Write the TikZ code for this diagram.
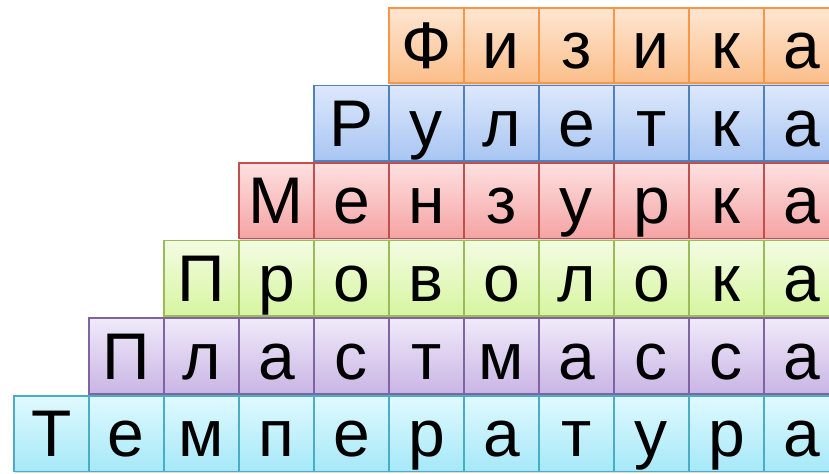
\documentclass[tikz,border=0pt]{standalone}
\usepackage{fontspec}
\setmainfont{Liberation Sans}
\usetikzlibrary{shadows}
\definecolor{orB}{HTML}{F79646}\definecolor{orT}{HTML}{FEE6D2}\definecolor{orD}{HTML}{FBBE8A}
\definecolor{blB}{HTML}{4F81BD}\definecolor{blT}{HTML}{DDE8FC}\definecolor{blD}{HTML}{A8C5F2}
\definecolor{rdB}{HTML}{C0504D}\definecolor{rdT}{HTML}{FEE0E0}\definecolor{rdD}{HTML}{F5A3A3}
\definecolor{gnB}{HTML}{9BBB59}\definecolor{gnT}{HTML}{F4FCE2}\definecolor{gnD}{HTML}{D6F5A0}
\definecolor{puB}{HTML}{8064A2}\definecolor{puT}{HTML}{F0EAF9}\definecolor{puD}{HTML}{C9B5E5}
\definecolor{aqB}{HTML}{4BACC6}\definecolor{aqT}{HTML}{E0FAFE}\definecolor{aqD}{HTML}{A6E8F8}
\tikzset{
  cell/.style={draw=#1B, line width=1.7bp, top color=#1T, bottom color=#1D,
    minimum width=75bp, minimum height=75.5bp, inner sep=0pt, anchor=north west,
    text height=46bp, text depth=0pt,
    font=\fontsize{66bp}{70bp}\selectfont,
    drop shadow={opacity=0.3, shadow xshift=1bp, shadow yshift=-1.5bp}}
}
\begin{document}
\begin{tikzpicture}[x=1bp,y=-1bp]
\useasboundingbox (0,0) rectangle (829,474);
\clip (0,0) rectangle (829,474);
\foreach \r/\c/\w in {0/or/{Ф,и,з,и,к,а},1/bl/{Р,у,л,е,т,к,а},2/rd/{М,е,н,з,у,р,к,а},3/gn/{П,р,о,в,о,л,о,к,а},4/pu/{П,л,а,с,т,м,а,с,с,а},5/aq/{Т,е,м,п,е,р,а,т,у,р,а}}{
  \foreach \l [count=\k from 0] in \w {
    \node[cell=\c] (c\r-\k) at ({388-75*\r+75*\k},{7+77.6*\r}) {\l};
  }
}
\end{tikzpicture}
\end{document}
